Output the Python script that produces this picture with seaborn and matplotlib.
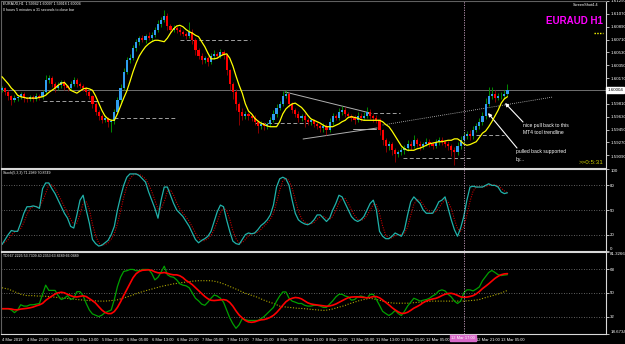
import numpy as np
import pandas as pd
import matplotlib
matplotlib.use("Agg")
import matplotlib.pyplot as plt
import matplotlib.transforms as mtransforms
import seaborn as sns

# EURAUD H1 closes, 4 Mar 13:00 .. 13 Mar 2019
closes = [
    1.6003, 1.5998, 1.5992, 1.5986, 1.5989, 1.5991, 1.5995, 1.5989, 1.5988, 1.5991,
    1.5988, 1.5992, 1.5991, 1.5998, 1.6014, 1.6017, 1.6009, 1.6003, 1.6007, 1.6012,
    1.6006, 1.6003, 1.6009, 1.6014, 1.6009, 1.6006, 1.6003, 1.5998, 1.5992, 1.5981,
    1.5970, 1.5964, 1.5958, 1.5961, 1.5956, 1.5957, 1.5970, 1.5986, 1.6003, 1.6026,
    1.6042, 1.6045, 1.6059, 1.6068, 1.6073, 1.6070, 1.6076, 1.6073, 1.6077, 1.6084,
    1.6093, 1.6098, 1.6104, 1.6090, 1.6084, 1.6087, 1.6084, 1.6082, 1.6079, 1.6076,
    1.6082, 1.6070, 1.6056, 1.6048, 1.6042, 1.6045, 1.6040, 1.6048, 1.6051, 1.6048,
    1.6054, 1.6049, 1.6028, 1.6009, 1.5998, 1.5981, 1.5970, 1.5964, 1.5967, 1.5964,
    1.5961, 1.5956, 1.5950, 1.5953, 1.5950, 1.5953, 1.5958, 1.5967, 1.5975, 1.5981,
    1.5992, 1.5995, 1.5981, 1.5972, 1.5967, 1.5961, 1.5964, 1.5958, 1.5956, 1.5958,
    1.5953, 1.5950, 1.5947, 1.5950, 1.5944, 1.5956, 1.5964, 1.5961, 1.5970, 1.5972,
    1.5967, 1.5964, 1.5961, 1.5958, 1.5964, 1.5961, 1.5964, 1.5970, 1.5964, 1.5961,
    1.5958, 1.5944, 1.5930, 1.5922, 1.5925, 1.5916, 1.5911, 1.5914, 1.5916, 1.5919,
    1.5925, 1.5922, 1.5930, 1.5925, 1.5922, 1.5925, 1.5928, 1.5925, 1.5922, 1.5928,
    1.5930, 1.5928, 1.5925, 1.5922, 1.5916, 1.5914, 1.5922, 1.5930, 1.5936, 1.5939,
    1.5936, 1.5944, 1.5950, 1.5956, 1.5964, 1.5981, 1.5992, 1.5995, 1.5989, 1.5992,
    1.5992, 1.59942, 1.60004,
]
first_open = 1.6000

# wick lengths in pips above / below the body
upper_wick = [
    3, 2, 3, 2, 4, 3, 2, 3, 2, 3,
    2, 4, 3, 3, 7, 5, 3, 2, 4, 3,
    3, 2, 4, 5, 3, 2, 3, 2, 3, 2,
    3, 2, 3, 4, 2, 3, 4, 5, 6, 5,
    4, 6, 5, 4, 3, 4, 3, 5, 4, 5,
    6, 5, 8, 4, 3, 5, 3, 4, 3, 3,
    14, 4, 3, 3, 4, 3, 3, 4, 5, 3,
    4, 3, 3, 2, 3, 4, 3, 5, 4, 3,
    3, 4, 2, 4, 3, 3, 4, 5, 6, 4,
    7, 5, 3, 2, 3, 4, 3, 4, 3, 3,
    2, 3, 3, 4, 3, 5, 4, 3, 5, 6,
    4, 3, 3, 4, 5, 4, 6, 7, 4, 3,
    4, 3, 2, 3, 4, 2, 3, 3, 4, 5,
    6, 4, 7, 3, 4, 3, 5, 4, 3, 4,
    5, 4, 3, 4, 3, 4, 5, 6, 5, 4,
    5, 6, 4, 5, 6, 8, 12, 10, 5, 4,
    5, 6, 9,
]
lower_wick = [
    3, 4, 5, 6, 3, 4, 3, 5, 4, 3,
    4, 3, 5, 3, 3, 4, 5, 6, 3, 4,
    5, 4, 3, 3, 4, 3, 4, 5, 4, 6,
    5, 6, 4, 3, 8, 15, 4, 3, 2, 3,
    3, 4, 3, 4, 5, 3, 4, 3, 4, 3,
    3, 4, 3, 5, 4, 3, 4, 5, 3, 4,
    3, 5, 6, 4, 5, 4, 6, 3, 4, 3,
    3, 5, 6, 8, 10, 8, 18, 6, 4, 5,
    4, 5, 10, 4, 5, 4, 3, 3, 4, 3,
    3, 3, 5, 4, 5, 6, 4, 10, 5, 4,
    5, 4, 6, 5, 7, 3, 4, 3, 3, 4,
    4, 3, 4, 5, 3, 4, 3, 3, 4, 5,
    4, 6, 7, 8, 5, 6, 11, 5, 4, 5,
    4, 5, 3, 4, 5, 4, 3, 5, 4, 3,
    4, 5, 4, 6, 8, 18, 5, 4, 3, 4,
    5, 4, 3, 4, 5, 4, 3, 4, 5, 3,
    4, 3, 2,
]

# yellow moving average on the price chart
ma_yellow = [
    1.6019, 1.6014, 1.6009, 1.6003, 1.5999, 1.5993, 1.5991, 1.5990, 1.5989, 1.5989,
    1.5989, 1.5989, 1.5990, 1.5991, 1.5993, 1.5997, 1.6000, 1.6003, 1.6007, 1.6010,
    1.6011, 1.6006, 1.6000, 1.5998, 1.5996, 1.5999, 1.6002, 1.6003, 1.6002, 1.6000,
    1.5992, 1.5982, 1.5972, 1.5964, 1.5960, 1.5958, 1.5958, 1.5967, 1.5978, 1.5989,
    1.5999, 1.6012, 1.6026, 1.6038, 1.6048, 1.6055, 1.6061, 1.6065, 1.6068, 1.6070,
    1.6070, 1.6069, 1.6068, 1.6073, 1.6080, 1.6086, 1.6090, 1.6091, 1.6089, 1.6085,
    1.6082, 1.6080, 1.6077, 1.6075, 1.6068, 1.6061, 1.6052, 1.6044, 1.6044, 1.6045,
    1.6048, 1.6050, 1.6051, 1.6045, 1.6034, 1.6020, 1.6007, 1.5996, 1.5981, 1.5971,
    1.5967, 1.5961, 1.5957, 1.5954, 1.5952, 1.5950, 1.5949, 1.5949, 1.5949, 1.5956,
    1.5967, 1.5974, 1.5978, 1.5981, 1.5982, 1.5979, 1.5976, 1.5971, 1.5965, 1.5960,
    1.5958, 1.5956, 1.5954, 1.5951, 1.5949, 1.5949, 1.5949, 1.5951, 1.5953, 1.5956,
    1.5958, 1.5962, 1.5963, 1.5962, 1.5961, 1.5959, 1.5958, 1.5958, 1.5958, 1.5958,
    1.5958, 1.5958, 1.5956, 1.5952, 1.5949, 1.5943, 1.5936, 1.5929, 1.5922, 1.5918,
    1.5916, 1.5916, 1.5916, 1.5918, 1.5919, 1.5921, 1.5923, 1.5925, 1.5926, 1.5927,
    1.5928, 1.5928, 1.5929, 1.5930, 1.5930, 1.5932, 1.5932, 1.5929, 1.5925, 1.5923,
    1.5924, 1.5926, 1.5928, 1.5934, 1.5940, 1.5943, 1.5949, 1.5956, 1.5964, 1.5972,
    1.5982, 1.5988, 1.5991,
]

# Stochastic(5,3,3) main line
stoch_k = [
    8, 14, 20, 25, 24, 24, 34, 46, 54, 54,
    55, 54, 52, 76, 83, 83, 76, 70, 62, 54,
    46, 40, 30, 28, 44, 62, 68, 50, 34, 14,
    9, 6, 7, 10, 13, 20, 30, 50, 66, 80,
    90, 94, 94, 94, 92, 88, 84, 72, 62, 52,
    40, 62, 78, 78, 68, 58, 50, 46, 42, 36,
    30, 22, 14, 10, 13, 15, 18, 24, 36, 48,
    56, 54, 38, 24, 12, 9, 8, 14, 20, 22,
    21, 22, 26, 31, 34, 38, 44, 56, 78, 88,
    90, 88, 80, 62, 46, 38, 35, 33, 32, 34,
    38, 44, 44, 40, 36, 40, 50, 58, 68, 66,
    58, 50, 42, 38, 36, 38, 42, 50, 58, 62,
    50, 24, 18, 15, 15, 18, 22, 20, 18, 26,
    44, 60, 66, 62, 58, 50, 46, 46, 46, 52,
    60, 62, 66, 52, 38, 26, 18, 28, 42, 62,
    78, 79, 78, 78, 78, 80, 82, 80, 80, 78,
    72, 70, 71,
]

# TDI green price line and yellow market base line
tdi_green = [
    38, 38, 38, 37, 35, 37, 41, 40, 40, 41,
    41, 41.5, 42, 49, 56, 52, 52, 52, 48, 45,
    46, 48, 45, 46, 51, 51, 48, 42, 37, 34,
    33, 32, 33, 35, 36, 37, 45, 55, 62, 66.5,
    67, 68, 68, 67, 67, 68, 68, 68, 65, 60,
    62, 66, 70.5, 64, 62.5, 62, 60, 57, 56, 55.5,
    54, 50, 46, 44, 41.5, 40.6, 43, 46, 48.5, 47.7,
    46, 43, 37, 31, 26.5, 23, 25.7, 30.4, 29.6, 29,
    29, 29, 29, 30.4, 32, 34.3, 36.7, 39, 43.8, 47.7,
    50.8, 50.8, 46, 43.8, 43, 42, 42, 40.6, 40, 40,
    40.6, 40.6, 40, 39, 39, 41.5, 44, 47, 49, 49,
    47.7, 47, 44.5, 45, 47, 47.7, 47, 46, 49, 49,
    45, 40.6, 36, 34.3, 32.8, 34.3, 36.7, 34.3, 32.8, 36,
    40, 43, 46, 45, 43.8, 44.5, 45, 46, 47.7, 49,
    51.6, 52.4, 51.6, 49, 47, 43.8, 42, 43.8, 50, 52.4,
    52.4, 51.6, 53, 54.7, 59.4, 62.5, 65.7, 67.2, 65.7, 64,
    63.3, 63.7, 64,
]
tdi_base = [
    54, 53.5, 53, 52, 51, 50, 49, 48.5, 48, 48,
    48, 47.7, 47.7, 47.7, 47.5, 47.3, 47, 46.8, 46.5, 46.3,
    46, 45.8, 45.6, 45.4, 45, 44.8, 44.6, 44.4, 44.2, 44,
    44, 43.8, 43.8, 43.8, 44, 44.2, 44.5, 44.8, 45.5, 46.2,
    47, 47.7, 48.5, 49.5, 50.3, 51, 51.7, 52.4, 53, 53.7,
    54.3, 55, 55.5, 56, 56.5, 57, 57.3, 57.8, 58, 58.4,
    58.7, 59, 59.2, 59.4, 59.4, 59.4, 59.4, 59.4, 59, 58.5,
    57.8, 57, 56, 55, 54, 53, 52, 50.8, 49.8, 49,
    48.2, 47.5, 46.6, 45.5, 44.5, 43.6, 42.8, 42, 41, 40,
    39.5, 39.3, 39, 38.8, 38.5, 38.3, 38.2, 38, 37.8, 37.5,
    37.3, 37.1, 36.9, 36.7, 36.9, 37.3, 37.8, 38.5, 39.2, 39.8,
    40.5, 41.5, 42.3, 43, 43.8, 44.5, 45, 45.5, 46, 45.5,
    45, 44.5, 43.8, 43.2, 42.7, 42.4, 42.2, 42.2, 42.2, 42.2,
    42.2, 42.4, 42.6, 42.8, 43, 43.2, 43.4, 43.6, 43.8, 43.8,
    43.8, 43.8, 43.8, 43.8, 43.8, 43.8, 43.8, 43.8, 43.8, 44,
    44.2, 44.4, 44.6, 45, 45.8, 46.5, 47.2, 47.8, 48.5, 49.2,
    50, 51, 52,
]

date_labels = ["4 Mar 2019", "4 Mar 21:00", "5 Mar 05:00", "5 Mar 13:00", "5 Mar 21:00",
               "6 Mar 05:00", "6 Mar 13:00", "6 Mar 21:00", "7 Mar 05:00", "7 Mar 13:00",
               "7 Mar 21:00", "8 Mar 05:00", "8 Mar 13:00", "8 Mar 21:00", "11 Mar 05:00",
               "11 Mar 13:00", "11 Mar 21:00", "12 Mar 05:00", "12 Mar 13:00", "12 Mar 21:00",
               "13 Mar 05:00"]
price_ticks = [1.6125, 1.6107, 1.6089, 1.6071, 1.6053, 1.6035, 1.6017,
               1.5981, 1.5963, 1.5945, 1.5927, 1.5909]
last_price = 1.60004
cross_bar = 148
cross_label = "12 Mar 17:00"

# drawn objects: (bar, price) pairs
trend_lines = [((90.7, 1.59976), (118.0, 1.59682)),
               ((96.5, 1.59318), (120.2, 1.59472)),
               ((112.5, 1.59458), (120.0, 1.59458))]
dashed_levels = [(57, 79.5, 1.60704), (13, 32.4, 1.59850), (36, 56, 1.59612),
                 (81, 98, 1.59542), (117, 127.6, 1.59682), (128.5, 150.6, 1.59052),
                 (152, 161, 1.59374)]
mt4_trendline = ((122, 1.59514), (176.6, 1.59906))

sns.set_style("dark")
plt.rcParams["font.family"] = ["Liberation Sans Narrow", "Liberation Sans", "DejaVu Sans"]
plt.rcParams["text.color"] = "white"

W, H = 625, 344
fig = plt.figure(figsize=(W / 100, H / 100), dpi=100, facecolor="black")


def fx(px):
    return px / W


def fy(py):
    return 1 - py / H


ax_main = fig.add_axes([1 / W, 1 - 168 / H, 605 / W, 167 / H])
ax_st = fig.add_axes([1 / W, 1 - 251 / H, 605 / W, 82 / H])
ax_tdi = fig.add_axes([1 / W, 1 - 334 / H, 605 / W, 82 / H])
axes = [ax_main, ax_st, ax_tdi]

n = len(closes)
idx = np.arange(n)
c = np.array(closes)
o = np.array([first_open] + closes[:-1])
hi = np.maximum(o, c) + np.array(upper_wick) * 0.0001
lo = np.minimum(o, c) - np.array(lower_wick) * 0.0001
bull = c >= o
body = np.maximum(np.abs(c - o), 0.00004)

# candles
ax_main.vlines(idx[bull], lo[bull], hi[bull], color="#00a000", lw=0.6, zorder=2)
ax_main.vlines(idx[~bull], lo[~bull], hi[~bull], color="#a00000", lw=0.6, zorder=2)
ax_main.bar(idx[bull], body[bull], bottom=np.minimum(o, c)[bull], width=0.7,
            color="#2f9df0", linewidth=0, zorder=3)
ax_main.bar(idx[~bull], body[~bull], bottom=np.minimum(o, c)[~bull], width=0.7,
            color="#ff0000", linewidth=0, zorder=3)
sns.lineplot(x=idx, y=ma_yellow, ax=ax_main, color="#ffff00", lw=0.9, zorder=4)

ax_main.axhline(last_price, color="#808080", lw=0.6, zorder=1)
for (x0, p0), (x1, p1) in trend_lines:
    ax_main.plot([x0, x1], [p0, p1], color="#b0b0b0", lw=0.7, zorder=1)
for x0, x1, p in dashed_levels:
    ax_main.plot([x0, x1], [p, p], color="#a0a0a0", lw=0.7, ls=(0, (4, 2.5)), zorder=1)
(tx0, tp0), (tx1, tp1) = mt4_trendline
ax_main.plot([tx0, tx1], [tp0, tp1], color="#d0d0d0", lw=0.6, ls=(0, (1, 1.5)), zorder=1)
ax_main.set_ylim(1.58912, 1.6125)
ax_main.set_yticks(price_ticks)
ax_main.set_yticklabels([f"{p:.5f}" for p in price_ticks])
ax_main.text(1.002, last_price, f"{last_price:.5f}",
             transform=mtransforms.blended_transform_factory(ax_main.transAxes, ax_main.transData),
             fontsize=3.2, color="black", va="center", ha="left",
             bbox=dict(facecolor="white", edgecolor="white", pad=0.6))

# stochastic
stoch_d = pd.Series(stoch_k).rolling(3, min_periods=1).mean()
for lvl in (20, 50, 80):
    ax_st.axhline(lvl, color="#808080", lw=0.6, ls=(0, (1, 2)))
sns.lineplot(x=idx, y=stoch_d, ax=ax_st, color="#c00000", lw=0.8, linestyle=(0, (1, 1.2)))
sns.lineplot(x=idx, y=stoch_k, ax=ax_st, color="#20b2aa", lw=0.9)
ax_st.set_ylim(0, 100)
ax_st.set_yticks([0, 20, 50, 80, 100])
ax_st.set_yticklabels(["0", "20", "50", "80", "100"])

# TDI
tdi_red = pd.Series(tdi_green).rolling(7, min_periods=1).mean()
for lvl in (32, 50, 68):
    ax_tdi.axhline(lvl, color="#808080", lw=0.6, ls=(0, (1, 2)))
sns.lineplot(x=idx, y=tdi_base, ax=ax_tdi, color="#b0a800", lw=0.8, linestyle=(0, (1, 1.5)))
sns.lineplot(x=idx, y=tdi_green, ax=ax_tdi, color="#00a000", lw=0.9)
sns.lineplot(x=idx, y=tdi_red, ax=ax_tdi, color="#ff0000", lw=1.2)
ax_tdi.set_ylim(18.6734, 81.3266)
ax_tdi.set_yticks([18.6734, 32, 50, 68, 81.3266])
ax_tdi.set_yticklabels(["18.6734", "32", "50", "68", "81.3266"])

for ax in axes:
    ax.set_facecolor("black")
    ax.set_xlim(-0.32, -0.32 + 605 / 3.12)
    ax.yaxis.tick_right()
    ax.tick_params(axis="y", colors="white", labelsize=3.2, length=2, width=0.5, pad=1)
    ax.tick_params(axis="x", colors="white", labelsize=2.9, length=2, width=0.5, pad=1)
    ax.set_xlabel("")
    ax.set_ylabel("")
    ax.grid(False)
    ax.axvline(cross_bar, color="#c8a0c0", lw=0.6, ls=(0, (1.5, 1.5)), zorder=5)
    for side in ("top", "bottom", "right"):
        ax.spines[side].set_color("#d8d8d8")
        ax.spines[side].set_linewidth(0.8)
    ax.spines["left"].set_color("#606060")
    # keep the end labels inside their own panel
    labels = ax.get_yticklabels()
    labels[-1].set_verticalalignment("top")
    if ax is not ax_main:
        labels[0].set_verticalalignment("bottom")
ax_main.spines["top"].set_color("#606060")
ax_main.set_xticks([])
ax_st.set_xticks([])
ax_tdi.set_xticks(np.arange(0, 161, 8))
ax_tdi.set_xticklabels(date_labels)
for lab in ax_tdi.get_xticklabels():
    lab.set_horizontalalignment("left")
# the crosshair time box sits over this date label, as in MT4
ax_tdi.get_xticklabels()[date_labels.index("12 Mar 13:00")].set_visible(False)

# header texts
fig.text(fx(3), fy(4), "EURAUD,H1  1.59942 1.60097 1.59918 1.60004", fontsize=2.6, va="center")
fig.text(fx(3), fy(10), "0 hours 5 minutes a 31 seconds to close bar", fontsize=2.6, va="center")
fig.text(fx(3), fy(173), "Stoch(5,3,3) 71.2989 70.8749", fontsize=2.6, va="center")
fig.text(fx(3), fy(256), "TDI 67.2225 53.7309 40.2353 63.8689 66.0489", fontsize=2.6, va="center")
fig.text(fx(598), fy(5), "ScreenShot4.4", fontsize=2.8, va="center", ha="right")
fig.text(fx(603), fy(21), "EURAUD H1", fontsize=7, fontweight="bold", color="#ff00ff",
         va="center", ha="right")
fig.add_artist(plt.Line2D([fx(594), fx(603)], [fy(33), fy(33)], color="#ffff00", lw=1,
                          ls=(0, (1, 1)), transform=fig.transFigure))
fig.text(fx(603), fy(163), ">>0:5:31", fontsize=4.5, color="#c8c800", va="center", ha="right")

# chart notes
fig.text(fx(523), fy(125), "nice pull back to this", fontsize=3.6, va="center")
fig.text(fx(523), fy(133), "MT4 tool trendline", fontsize=3.6, va="center")
fig.text(fx(516), fy(152), "pulled back supported", fontsize=3.6, va="center")
fig.text(fx(516), fy(160), "by...", fontsize=3.6, va="center")
for (x0, y0), (x1, y1) in [((523, 122), (505, 103)), ((517, 148), (488, 113))]:
    ax_main.annotate("", xy=(fx(x1), fy(y1)), xytext=(fx(x0), fy(y0)),
                     xycoords="figure fraction", textcoords="figure fraction",
                     arrowprops=dict(arrowstyle="-|>", color="white", lw=0.8,
                                     mutation_scale=5, shrinkA=0, shrinkB=0))

fig.text(fx(463), fy(338), cross_label, fontsize=2.9, color="white", va="center", ha="center",
         bbox=dict(facecolor="#d86ac8", edgecolor="#d86ac8", pad=0.8))

fig.savefig("out.png", dpi=100, facecolor="black")
